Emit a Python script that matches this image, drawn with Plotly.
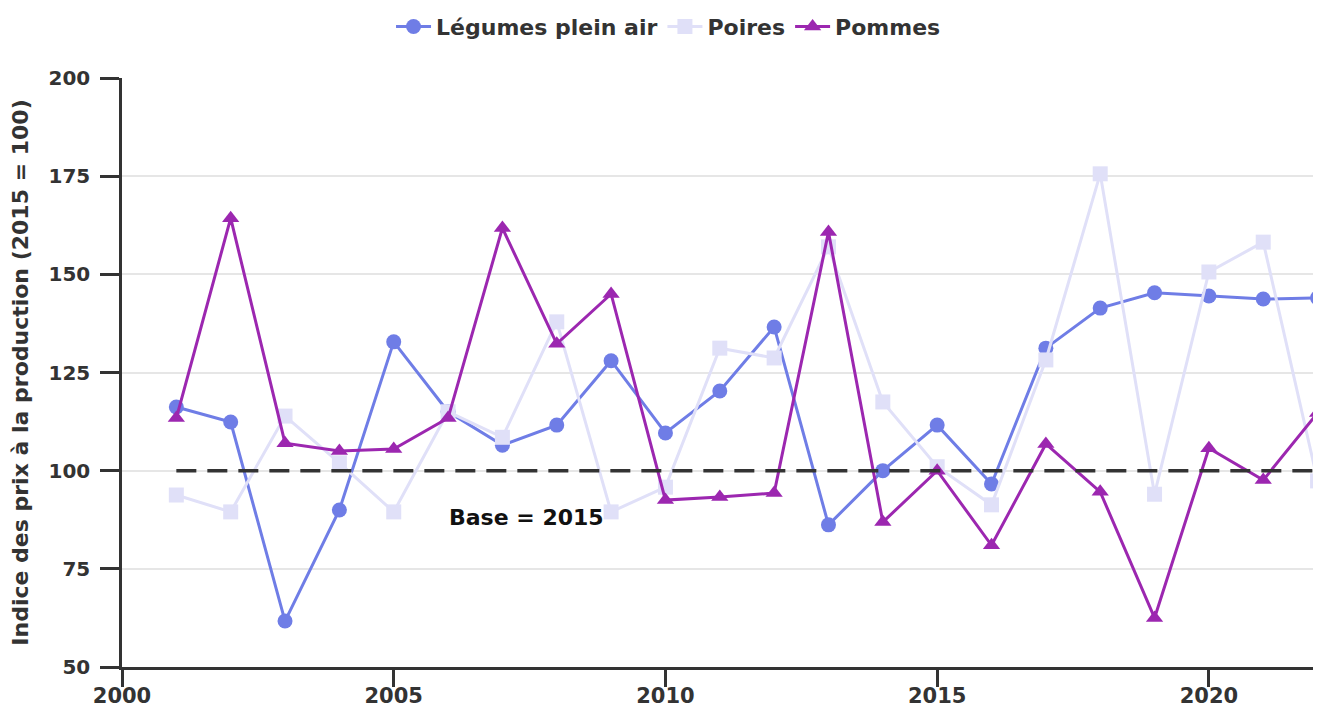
import plotly.graph_objects as go

years = list(range(2001, 2023))
legumes = [116.2, 112.4, 61.7, 90, 132.8, 115, 106.5, 111.6, 128, 109.6, 120.3, 136.6,
           86.2, 100, 111.6, 96.6, 131.2, 141.4, 145.3, 144.5, 143.7, 144]
poires = [93.8, 89.5, 113.9, 102, 89.5, 115, 108.5, 137.9, 89.5, 95.8, 131.2, 128.7,
          157, 117.5, 101, 91.3, 128.2, 175.6, 94, 150.6, 158.2, 97.4]
pommes = [113.4, 164.3, 107, 105, 105.5, 113.4, 161.8, 132.3, 145, 92.5, 93.3, 94.3,
          160.8, 86.9, 100, 81, 106.8, 94.6, 62.5, 105.7, 97.6, 114.7]
base_value = 100
base_label = "Base = 2015"

FONT = "DejaVu Sans"
TXT = "#333333"
fig = go.Figure()
fig.add_trace(go.Scatter(x=years, y=legumes, name="Légumes plein air", mode="lines+markers",
                         line=dict(color="#6f7de6", width=3),
                         marker=dict(symbol="circle", size=15, color="#6f7de6")))
fig.add_trace(go.Scatter(x=years, y=poires, name="Poires", mode="lines+markers",
                         line=dict(color="#e0e0f8", width=3),
                         marker=dict(symbol="square", size=15, color="#e0e0f8")))
fig.add_trace(go.Scatter(x=years, y=pommes, name="Pommes", mode="lines+markers",
                         line=dict(color="#9c27b0", width=3),
                         marker=dict(symbol="triangle-up", size=15, color="#9c27b0")))
fig.add_trace(go.Scatter(x=[years[0], years[-1]], y=[base_value, base_value], mode="lines",
                         line=dict(color="#333333", width=3.5, dash="20px,11px"),
                         showlegend=False, hoverinfo="skip"))
fig.add_annotation(x=2007.45, y=88, text="<b>" + base_label + "</b>", showarrow=False,
                   font=dict(family=FONT, size=22, color="#111111"))

fig.update_layout(
    width=1321, height=706,
    paper_bgcolor="white", plot_bgcolor="white",
    margin=dict(l=114, r=0, t=70, b=47, autoexpand=False),
    font=dict(family=FONT, size=20, color=TXT),
    legend=dict(orientation="h", x=0.4528, xanchor="center", y=1.087, yanchor="middle",
                itemwidth=35,
                font=dict(family=FONT, size=22, color=TXT, weight="bold")),
    xaxis=dict(range=[2000, 2022.21], tickvals=[2000, 2005, 2010, 2015, 2020],
               showgrid=False, showline=True, linecolor="#333333", linewidth=2.5,
               ticks="outside", ticklen=17, tickwidth=2.5, tickcolor="#333333",
               ticklabelstandoff=-9,
               tickfont=dict(family=FONT, size=21, weight="bold", color=TXT),
               zeroline=False, automargin=False),
    yaxis=dict(range=[50, 200], tickvals=[50, 75, 100, 125, 150, 175, 200],
               showgrid=True, gridcolor="#e6e6e6", gridwidth=1.5,
               showline=True, linecolor="#333333", linewidth=2.5,
               ticks="outside", ticklen=19, tickwidth=2.5, tickcolor="#333333",
               ticklabelstandoff=6,
               tickfont=dict(family=FONT, size=20, weight="bold", color=TXT),
               title=dict(text="Indice des prix à la production (2015 = 100)",
                          font=dict(family=FONT, size=22, weight="bold", color=TXT),
                          standoff=14),
               zeroline=False, automargin=False),
)
fig.write_html("out.html")
